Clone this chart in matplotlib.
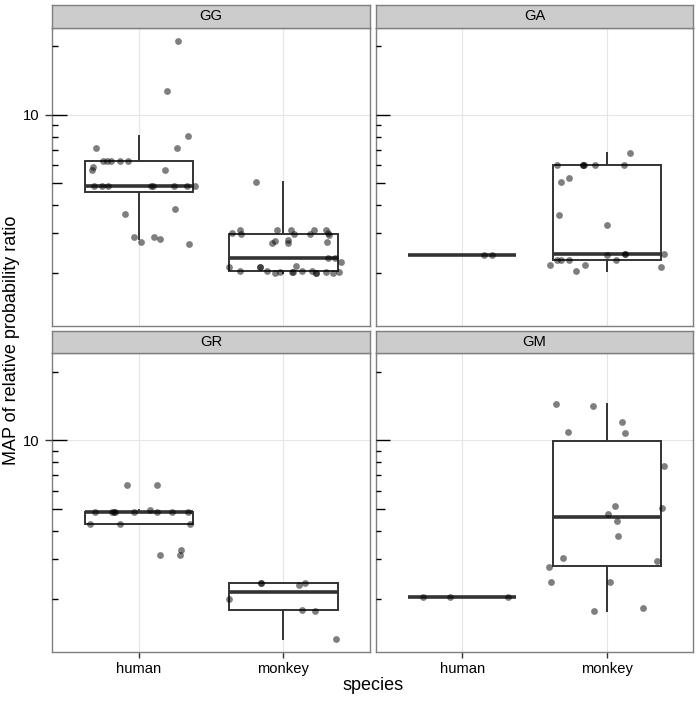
import numpy as np
import matplotlib
matplotlib.use("Agg")
import matplotlib.pyplot as plt
from matplotlib import cbook, ticker
from matplotlib.transforms import blended_transform_factory

plt.rcParams['font.family'] = ['Liberation Sans', 'DejaVu Sans']

species = ["human", "monkey"]
facets = ["GG", "GA", "GR", "GM"]

# MAP of relative probability ratio (log y scale)
# plus the horizontal jitter of every point (in category units)
gg_human = [21.05, 12.65, 8.01, 7.09, 7.09, 6.26, 6.26, 6.26, 6.26, 6.26,
            5.84, 5.70, 5.72, 4.82, 4.82, 4.82, 4.82, 4.82, 4.82, 4.82, 4.82,
            3.65, 3.83, 2.89, 2.75, 2.89, 2.83, 2.69]
gg_human_jit = [0.267, 0.194, 0.339, -0.295, 0.263, -0.251, -0.223, -0.196, -0.131, -0.074,
                -0.316, -0.325, 0.177, -0.313, -0.254, -0.214, 0.081, 0.095, 0.244, 0.336, 0.385,
                -0.097, 0.253, -0.032, 0.014, 0.104, 0.143, 0.346]

gg_monkey = [5.03, 3.01, 3.09, 2.98, 3.09, 3.09, 2.98, 2.97, 3.09, 3.09, 3.01, 2.95,
             2.71, 2.765, 2.80, 2.71, 2.75, 2.33, 2.33, 2.24,
             2.13, 2.05, 2.13, 2.13, 2.04, 2.01, 2.03, 2.03, 2.03, 2.155, 2.05, 2.04,
             2.01, 2.01, 2.03, 2.01, 2.03]
gg_monkey_jit = [-0.189, -0.357, -0.297, -0.294, -0.041, 0.052, 0.076, 0.182, 0.212, 0.297, 0.309, 0.313,
                 -0.079, -0.058, 0.032, 0.035, 0.301, 0.307, 0.355, 0.398,
                 -0.376, -0.302, -0.162, -0.160, -0.115, -0.058, -0.020, 0.062, 0.066, 0.087, 0.126, 0.199,
                 0.227, 0.229, 0.295, 0.343, 0.384]

ga_human = [2.39, 2.39]
ga_human_jit = [0.152, 0.203]

ga_monkey = [6.74, 5.97, 5.97, 5.97, 5.97, 5.97, 5.97, 5.03, 5.25, 3.60, 3.25,
             2.40, 2.43, 2.43, 2.43, 2.18, 2.29, 2.29, 2.29, 2.18, 2.05, 2.29, 2.13]
ga_monkey_jit = [0.159, -0.346, -0.164, -0.160, -0.166, -0.079, 0.120, -0.319, -0.261, -0.328, 0.0,
                 0.002, 0.125, 0.128, 0.397, -0.393, -0.342, -0.319, -0.261, -0.150, -0.215, 0.064, 0.374]

gr_human = [6.34, 6.34, 4.83, 4.83, 4.83, 4.83, 4.83, 4.94, 4.83, 4.83, 4.83,
            4.30, 4.30, 4.30, 3.13, 3.13, 3.30]
gr_human_jit = [-0.085, 0.124, -0.304, -0.184, -0.175, -0.164, -0.037, 0.074, 0.124, 0.228, 0.341,
                -0.336, -0.129, 0.357, 0.147, 0.283, 0.290]

gr_monkey = [2.35, 2.35, 2.31, 2.35, 2.01, 1.80, 1.78, 1.344]
gr_monkey_jit = [-0.157, -0.155, 0.106, 0.147, -0.378, 0.126, 0.218, 0.364]

gm_human = [2.04, 2.04, 2.04]
gm_human_jit = [-0.270, -0.088, 0.314]

gm_monkey = [14.35, 14.11, 12.08, 10.92, 10.73, 7.72, 5.16, 5.06, 4.76, 4.44,
             3.78, 3.03, 2.94, 2.77, 2.38, 2.38, 1.77, 1.83]
gm_monkey_jit = [-0.349, -0.097, 0.104, -0.268, 0.129, 0.399, 0.057, 0.381, 0.009, 0.069,
                 0.076, -0.300, 0.346, -0.397, -0.383, 0.021, -0.086, 0.249]

facet_data = {
    "GG": [(gg_human, gg_human_jit), (gg_monkey, gg_monkey_jit)],
    "GA": [(ga_human, ga_human_jit), (ga_monkey, ga_monkey_jit)],
    "GR": [(gr_human, gr_human_jit), (gr_monkey, gr_monkey_jit)],
    "GM": [(gm_human, gm_human_jit), (gm_monkey, gm_monkey_jit)],
}

W, H = 699, 702
BOX_COL = "#333333"
BORDER = "#7f7f7f"


def px_rect(x0, y0, x1, y1):
    return [x0 / W, 1 - y1 / H, (x1 - x0) / W, (y1 - y0) / H]


# shared y range: 5% expansion in log space, like ggplot
all_vals = np.concatenate([np.asarray(v) for f in facets for v, _ in facet_data[f]])
lo, hi = np.log10(all_vals.min()), np.log10(all_vals.max())
pad = 0.05 * (hi - lo)
ylim = (10 ** (lo - pad), 10 ** (hi + pad))


def log_stats(vals):
    st = cbook.boxplot_stats(np.log10(vals), whis=1.5)[0]
    for k in ("med", "q1", "q3", "whislo", "whishi", "mean", "cilo", "cihi"):
        st[k] = 10 ** st[k]
    st["fliers"] = []
    return st


def draw_logticks(ax, width_px):
    trans = blended_transform_factory(ax.transAxes, ax.transData)
    for d in range(int(np.floor(np.log10(ylim[0]))), int(np.ceil(np.log10(ylim[1]))) + 1):
        for k in range(1, 10):
            v = k * 10.0 ** d
            if not (ylim[0] <= v <= ylim[1]):
                continue
            L = 14.4 if k == 1 else (9.6 if k == 5 else 5.2)
            ax.plot([0, L / width_px], [v, v], transform=trans, color="black",
                    lw=1.0, solid_capstyle="butt", zorder=4, clip_on=False)


fig = plt.figure(figsize=(W / 100, H / 100), dpi=100)

cols = [(52.3, 370.0), (375.7, 693.3)]
rows = [(27.7, 325.7), (353.0, 652.3)]
strips = [(4.7, 27.7), (331.0, 353.0)]

for i, name in enumerate(facets):
    r, c = divmod(i, 2)
    x0, x1 = cols[c]
    y0, y1 = rows[r]
    ax = fig.add_axes(px_rect(x0, y0, x1, y1))
    ax.set_yscale("log")
    ax.set_ylim(*ylim)
    ax.set_xlim(0.4, 2.6)

    for j, (vals, jit) in enumerate(facet_data[name]):
        pos = j + 1
        ax.bxp([log_stats(vals)], positions=[pos], widths=0.75, showfliers=False,
               showcaps=False, patch_artist=True,
               boxprops=dict(facecolor="white", edgecolor=BOX_COL, lw=1.4),
               medianprops=dict(color=BOX_COL, lw=2.6, solid_capstyle="butt"),
               whiskerprops=dict(color=BOX_COL, lw=1.4),
               zorder=2)
        ax.scatter(pos + np.asarray(jit), vals, s=24, color="black", alpha=0.5,
                   lw=0, zorder=3)

    ax.set_xticks([1, 2])
    ax.yaxis.set_major_locator(ticker.FixedLocator([10]))
    ax.yaxis.set_minor_locator(ticker.NullLocator())
    ax.yaxis.set_major_formatter(ticker.FormatStrFormatter("%g"))
    ax.grid(True, color="#e5e5e5", lw=0.8, zorder=0)
    ax.set_axisbelow(True)
    for sp in ax.spines.values():
        sp.set_color(BORDER)
        sp.set_linewidth(1.0)

    if r == 1:
        ax.set_xticklabels(species)
        ax.tick_params(axis="x", length=4.5, width=1.0, color=BOX_COL,
                       labelsize=10.6, pad=2.5, labelcolor="black")
    else:
        ax.tick_params(axis="x", length=0, labelbottom=False)
    if c == 0:
        ax.tick_params(axis="y", length=4.7, width=1.0, color=BOX_COL,
                       labelsize=10.6, pad=4.5, labelcolor="black")
    else:
        ax.tick_params(axis="y", length=0, labelleft=False)

    draw_logticks(ax, x1 - x0)

    sy0, sy1 = strips[r]
    sax = fig.add_axes(px_rect(x0, sy0, x1, sy1))
    sax.set_facecolor("#cccccc")
    sax.set_xticks([])
    sax.set_yticks([])
    for sp in sax.spines.values():
        sp.set_color(BORDER)
        sp.set_linewidth(1.0)
    sax.text(0.5, 0.5, name, ha="center", va="center", fontsize=10.6,
             transform=sax.transAxes)

fig.text(12 / W, 1 - 340 / H, "MAP of relative probability ratio", rotation=90,
         ha="center", va="center", fontsize=13)
fig.text(373 / W, 1 - 686 / H, "species", ha="center", va="center", fontsize=13)

fig.savefig("out.png", dpi=100)
